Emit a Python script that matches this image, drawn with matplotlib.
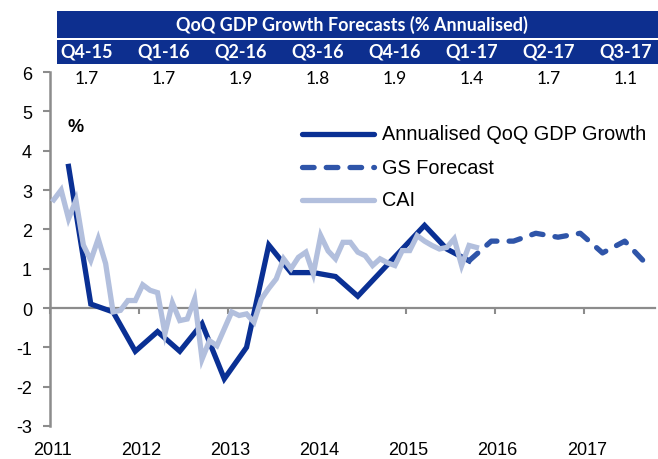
import matplotlib
matplotlib.use("Agg")
import matplotlib.pyplot as plt
from matplotlib.patches import Rectangle
from matplotlib.lines import Line2D
import numpy as np

# ---------------- data ----------------
gdp_values = [3.6, 0.1, -0.1, -1.1, -0.6, -1.1, -0.4, -1.8, -1.0, 1.6,
              0.9, 0.9, 0.8, 0.3, 0.9, 1.5, 2.1, 1.5, 1.2]          # Q1-11 .. Q3-15
forecast_quarters = ["Q4-15", "Q1-16", "Q2-16", "Q3-16", "Q4-16", "Q1-17", "Q2-17", "Q3-17"]
forecast_values = [1.7, 1.7, 1.9, 1.8, 1.9, 1.4, 1.7, 1.1]
cai_values = [2.75, 3.0, 2.27, 2.74, 1.6, 1.21, 1.76, 1.13, -0.1, -0.06,
              0.19, 0.19, 0.59, 0.45, 0.39, -0.65, 0.13, -0.32, -0.28, 0.23,
              -1.3, -0.83, -0.96, -0.53, -0.1, -0.19, -0.15, -0.36, 0.23, 0.5,
              0.74, 1.25, 1.0, 1.29, 1.42, 0.87, 1.84, 1.45, 1.25, 1.67,
              1.67, 1.42, 1.33, 1.08, 1.25, 1.15, 1.08, 1.46, 1.46, 1.84,
              1.7, 1.59, 1.5, 1.54, 1.76, 1.08, 1.59, 1.54]          # Jan-11 .. Oct-15
year_ticks = [2011, 2012, 2013, 2014, 2015, 2016, 2017]
y_ticks = [-3, -2, -1, 0, 1, 2, 3, 4, 5, 6]
table_title = "QoQ GDP Growth Forecasts (% Annualised)"

# dates as decimal years (mid-month)
cai_x = 2011 + (np.arange(len(cai_values)) + 0.5) / 12
gdp_x = 2011 + (np.arange(len(gdp_values)) * 3 + 2.5) / 12
fc_x = 2011 + (np.arange(len(gdp_values) - 1, len(gdp_values) + len(forecast_values)) * 3 + 2.5) / 12
fc_y = [gdp_values[-1]] + forecast_values

# ---------------- style ----------------
DARK = "#0a3094"
MID = "#2f55a9"
LIGHT = "#b2bfdd"
BAND = "#0d2f8f"
GREY = "#8c8c8c"
DASH = (0, (2.2, 2.3))
LW = 3.8

W, H = 658, 460
fig = plt.figure(figsize=(W / 100, H / 100), dpi=100)
ax = fig.add_axes([50 / W, 1 - 427 / H, 605 / W, 354 / H])

ax.plot(gdp_x, gdp_values, color=DARK, lw=LW, solid_joinstyle="miter", zorder=3)
ax.plot(fc_x, fc_y, color=MID, lw=LW, linestyle=DASH,
        dash_capstyle="round", zorder=3)
ax.plot(cai_x, cai_values, color=LIGHT, lw=LW, solid_joinstyle="miter", zorder=4)

ax.set_xlim(2011, 2011 + 605 / 89)
ax.set_ylim(-3, 6)

for s in ["top", "right"]:
    ax.spines[s].set_visible(False)
ax.spines["left"].set_color(GREY)
ax.spines["left"].set_linewidth(1.8)
ax.spines["bottom"].set_position(("data", 0))
ax.spines["bottom"].set_color(GREY)
ax.spines["bottom"].set_linewidth(1.6)
ax.spines["bottom"].set_zorder(1)

ax.set_yticks(y_ticks)
ax.set_yticklabels([str(v) for v in y_ticks], fontsize=13, family="Liberation Sans")
ax.tick_params(axis="y", direction="out", length=5, width=1.5, color=GREY, pad=8)
ax.set_xticks(year_ticks)
ax.set_xticklabels([])
ax.tick_params(axis="x", direction="out", length=4, width=1.5, color=GREY)
for yr in year_ticks:
    ax.text(yr + 0.03, -3.6, str(yr), ha="center", va="center", fontsize=13,
            family="Liberation Sans", transform=ax.transData, clip_on=False)

ax.text(67, H - 128, "%", transform=None, fontsize=13, fontweight="bold",
        family="Liberation Sans", ha="left", va="center")

# legend (manual)
leg_items = [("Annualised QoQ GDP Growth", DARK, "-"),
             ("GS Forecast", MID, DASH),
             ("CAI", LIGHT, "-")]
for k, (lab, col, ls) in enumerate(leg_items):
    y = 1 - (135 + 33 * k) / H
    ln = Line2D([302 / W, 374 / W], [y, y], transform=fig.transFigure, color=col,
                lw=LW, linestyle=ls, solid_capstyle="round", dash_capstyle="round")
    fig.add_artist(ln)
    fig.text(382 / W, y, lab, fontsize=14.3, family="Liberation Sans",
             ha="left", va="center")

# forecast table
fig.add_artist(Rectangle((57 / W, 1 - 39 / H), (W - 57) / W, 27 / H,
                         transform=fig.transFigure, color=BAND, lw=0))
fig.add_artist(Rectangle((57 / W, 1 - 65 / H), (W - 57) / W, 24 / H,
                         transform=fig.transFigure, color=BAND, lw=0))
fig.text(352 / W, 1 - 25 / H, table_title, color="white", fontsize=13,
         fontweight="bold", family="Lato", ha="center", va="center")
for k, (q, v) in enumerate(zip(forecast_quarters, forecast_values)):
    cx = (87 + 76.9 * k) / W
    fig.text(cx, 1 - 52 / H, q, color="white", fontsize=13, fontweight="bold",
             family="Lato", ha="center", va="center")
    fig.text(cx, 1 - 79 / H, f"{v:.1f}", color="black", fontsize=12.5,
             family="Lato", ha="center", va="center")

fig.savefig("out.png", dpi=100)
